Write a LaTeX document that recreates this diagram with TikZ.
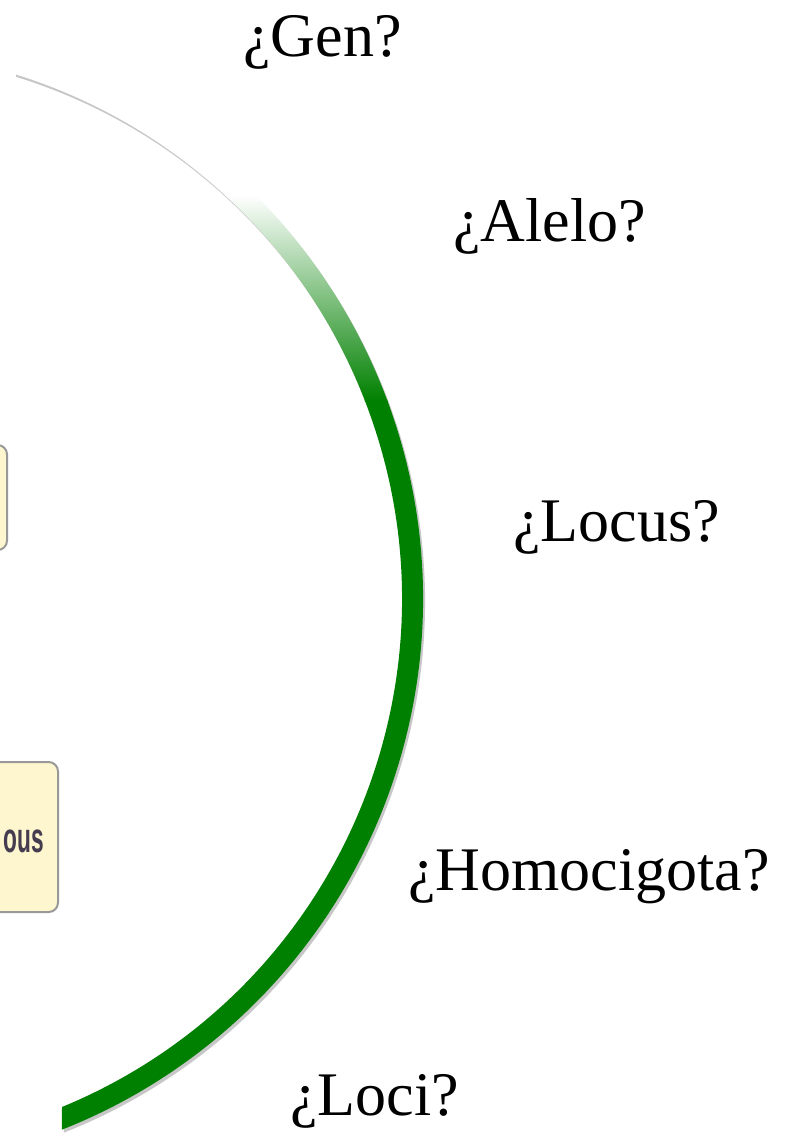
\documentclass[tikz,border=0pt]{standalone}
\usepackage{fontspec}
\setmainfont{Liberation Serif}
\newfontfamily\boxfont{Liberation Sans}
\definecolor{leafgreen}{RGB}{0,128,0}
\definecolor{cardfill}{RGB}{253,246,206}
\definecolor{oustext}{RGB}{70,60,80}
\begin{document}
\begin{tikzpicture}[x=0.75pt,y=-0.75pt,
  lbl/.style={anchor=base west, inner sep=0pt, font=\fontsize{46.5}{50}\selectfont},
  cardbox/.style={draw=black!40, line width=1.5pt, fill=cardfill, rounded corners=7pt},
  bandshadow/.style={fill=black, opacity=0.22}
]
\useasboundingbox (0,0) rectangle (802,1138);
\clip (0,0) rectangle (802,1138);
\fill[white] (0,0) rectangle (802,1138);

% cropped cards at the left edge
\draw[cardbox] (-40,445) rectangle (7,550);
\draw[cardbox] (-40,762) rectangle (58,912);
\node[anchor=base east, inner sep=0pt, text=oustext,
      font=\boxfont\bfseries\fontsize{31.5}{34}\selectfont, xscale=0.54] (frag) at (44,852) {ous};

% the band
\def\bandpath{(14,51.9) arc[start angle=-73.55, end angle=68.45, radius=570.5]
  -- (62,1107) arc[start angle=67.58, end angle=-72.9, radius=549.5] -- cycle}
\begin{scope}[shift={(2,3)}]
  \fill[bandshadow] \bandpath;
\end{scope}
\begin{scope}
  \clip \bandpath;
  \fill[white] (0,0) rectangle (802,196);
  \shade[top color=white, bottom color=leafgreen] (0,195) rectangle (802,401);
  \fill[leafgreen] (0,400) rectangle (802,1138);
\end{scope}

% labels
\node[lbl] (gen)   at (243,57)   {¿Gen?};
\node[lbl] (alelo) at (453,241)  {¿Alelo?};
\node[lbl] (locus) at (513,541)  {¿Locus?};
\node[lbl] (homo)  at (408,890)  {¿Homocigota?};
\node[lbl] (loci)  at (290,1115) {¿Loci?};
\end{tikzpicture}
\end{document}
